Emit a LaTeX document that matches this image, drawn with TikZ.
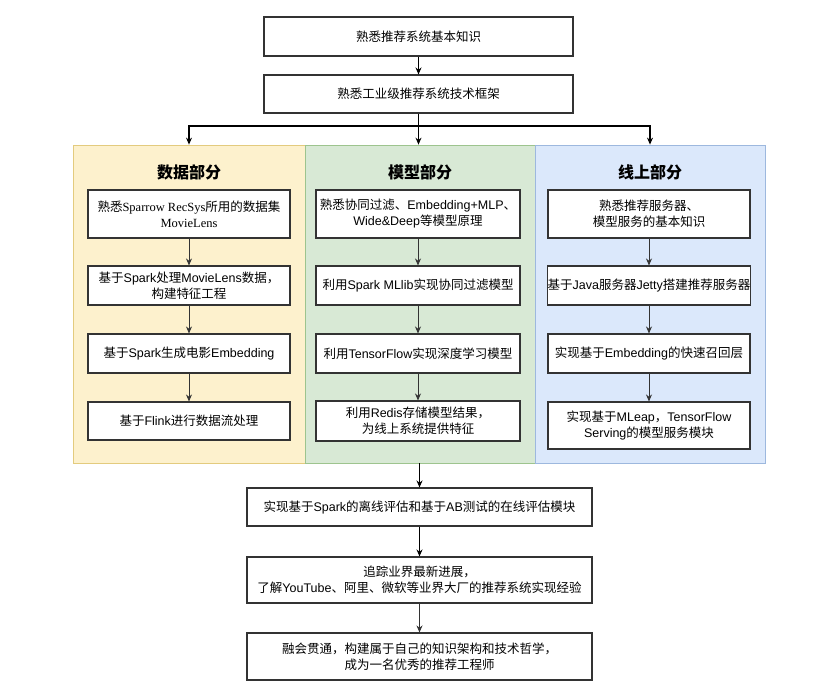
\documentclass[tikz,border=0pt]{standalone}
\usepackage{fontspec}
\setmainfont{Liberation Sans}
\newfontfamily\cjk{Noto Sans CJK SC}
\newfontfamily\serifen{Liberation Serif}
\newcommand\en[1]{{\rmfamily #1}}
\newcommand\sr[1]{{\serifen #1}}
\usetikzlibrary{arrows.meta}
\definecolor{yfill}{HTML}{FDF1CD}
\definecolor{ydraw}{HTML}{E3CB7E}
\definecolor{gfill}{HTML}{D8E9D5}
\definecolor{gdraw}{HTML}{9DC48E}
\definecolor{bfill}{HTML}{DBE8FB}
\definecolor{bdraw}{HTML}{9DB8DE}
\tikzset{
  box/.style={draw=black!80, line width=1.1pt, fill=white, align=center,
    font=\cjk\fontsize{12.5}{16}\selectfont, inner sep=0pt},
  panel/.style={line width=0.8pt, inner sep=0pt},
  ptitle/.style={font=\cjk\bfseries\fontsize{16}{18}\selectfont, inner sep=0pt},
  arr/.style={draw=black, line width=1.1pt, -{Stealth[length=7pt,width=6pt]}},
  carr/.style={draw=black!80, line width=0.8pt, -{Stealth[length=7pt,width=6pt]}}
}
\begin{document}
\begin{tikzpicture}[x=1pt,y=-1pt]
\useasboundingbox[fill=white] (0,0) rectangle (831,696);

% top boxes
\node[box, minimum width=309pt, minimum height=39pt] (t1) at (418.5,36.5) {熟悉推荐系统基本知识};
\node[box, minimum width=309pt, minimum height=38pt] (t2) at (418.5,94) {熟悉工业级推荐系统技术框架};

% panels
\node[panel, fill=yfill, draw=ydraw, minimum width=232pt, minimum height=318pt] (pY) at (189,304) {};
\node[panel, fill=gfill, draw=gdraw, minimum width=230pt, minimum height=318pt] (pG) at (420,304) {};
\node[panel, fill=bfill, draw=bdraw, minimum width=230pt, minimum height=318pt] (pB) at (650,304) {};

\node[ptitle] (tY) at (189,172) {数据部分};
\node[ptitle] (tG) at (420,172) {模型部分};
\node[ptitle] (tB) at (650,172) {线上部分};

% yellow column
\node[box, minimum width=202pt, minimum height=48pt] (y1) at (189,214) {熟悉\sr{Sparrow RecSys}所用的数据集\\\sr{MovieLens}};
\node[box, minimum width=202pt, minimum height=39pt] (y2) at (189,285.5) {基于\en{Spark}处理\en{MovieLens}数据，\\构建特征工程};
\node[box, minimum width=202pt, minimum height=39pt] (y3) at (189,353.5) {基于\en{Spark}生成电影\en{Embedding}};
\node[box, minimum width=202pt, minimum height=38pt] (y4) at (189,421) {基于\en{Flink}进行数据流处理};

% green column
\node[box, minimum width=204pt, minimum height=48pt] (g1) at (418,214) {熟悉协同过滤、\en{Embedding+MLP}、\\\en{Wide\&Deep}等模型原理};
\node[box, minimum width=204pt, minimum height=39pt] (g2) at (418,285.5) {利用\en{Spark MLlib}实现协同过滤模型};
\node[box, minimum width=204pt, minimum height=39pt] (g3) at (418,353.5) {利用\en{TensorFlow}实现深度学习模型};
\node[box, minimum width=204pt, minimum height=40pt] (g4) at (418,421) {利用\en{Redis}存储模型结果，\\为线上系统提供特征};

% blue column
\node[box, minimum width=202pt, minimum height=48pt] (b1) at (649,214) {熟悉推荐服务器、\\模型服务的基本知识};
\node[box, minimum width=202pt, minimum height=39pt] (b2) at (649,285.5) {基于\en{Java}服务器\en{Jetty}搭建推荐服务器};
\node[box, minimum width=202pt, minimum height=39pt] (b3) at (649,353.5) {实现基于\en{Embedding}的快速召回层};
\node[box, minimum width=202pt, minimum height=47pt] (b4) at (649,425.5) {实现基于\en{MLeap}，\en{TensorFlow}\\\en{Serving}的模型服务模块};

% bottom boxes
\node[box, minimum width=345pt, minimum height=38pt] (e1) at (419.5,507) {实现基于\en{Spark}的离线评估和基于\en{AB}测试的在线评估模块};
\node[box, minimum width=345pt, minimum height=46pt] (e2) at (419.5,580) {追踪业界最新进展，\\了解\en{YouTube}、阿里、微软等业界大厂的推荐系统实现经验};
\node[box, minimum width=345pt, minimum height=47pt] (e3) at (419.5,656.5) {融会贯通，构建属于自己的知识架构和技术哲学，\\成为一名优秀的推荐工程师};

% connectors
\draw[arr] (t1.south) -- (t2.north);
\coordinate (fork) at (418.5,126);
\draw[arr] (t2.south) -- (t2.south |- pG.north);
\draw[arr] (fork) -| (pY.north);
\draw[arr] (fork) -| (pB.north);

\foreach \c in {y,g,b}{
  \draw[carr] (\c1) -- (\c2);
  \draw[carr] (\c2) -- (\c3);
  \draw[carr] (\c3) -- (\c4);
}

\draw[arr] (e1.north |- pG.south) -- (e1.north);
\draw[arr] (e1) -- (e2);
\draw[carr] (e2) -- (e3);
\end{tikzpicture}
\end{document}
